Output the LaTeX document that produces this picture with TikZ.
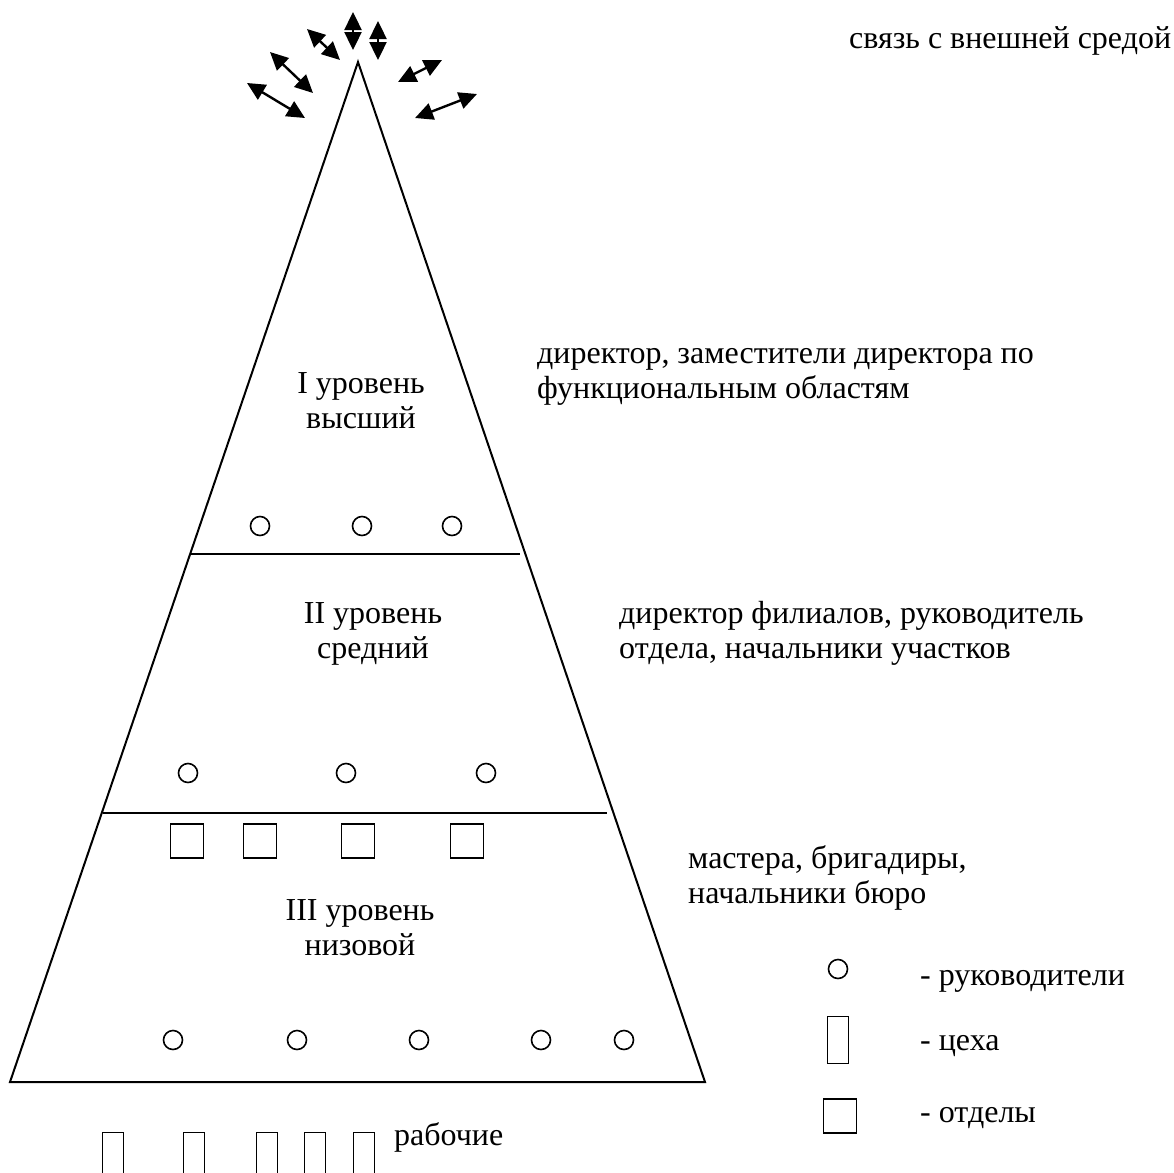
\documentclass[tikz,border=0pt]{standalone}
\usepackage{fontspec}
\setmainfont{Liberation Serif}
\usetikzlibrary{arrows.meta,positioning}
\tikzset{
  ruk/.style={circle,draw,line width=1.6pt,minimum size=19pt,inner sep=0pt},
  otd/.style={rectangle,draw,line width=1.6pt,minimum width=33pt,minimum height=34pt,inner sep=0pt},
  ceh/.style={rectangle,draw,line width=1.6pt,minimum width=21pt,minimum height=47pt,inner sep=0pt},
  txt/.style={font=\fontsize{32}{35}\selectfont,inner sep=0pt},
  svyaz/.style={{Triangle[length=18pt,width=17pt]}-{Triangle[length=18pt,width=17pt]},line width=2.4pt},
  kontur/.style={line width=2pt}
}

\begin{document}
\begin{tikzpicture}[x=1pt,y=-1pt]
\useasboundingbox (0,0) rectangle (1173,1173);
% пирамида и уровни
\coordinate (verh) at (358,62);
\coordinate (nizL) at (10,1082);
\coordinate (nizR) at (705,1082);
\draw[kontur] (nizL)--(verh)--(nizR)--cycle;
\draw[kontur] (191,554)--(520,554);
\draw[kontur] (103,813)--(607,813);
% связь с внешней средой
\foreach \xa/\ya/\xb/\yb in {247/83/305/118, 270/52/313/93, 307/29/340/60, 353/12/353/50,
  378/21/378/60, 398/82/442/60, 415/118/477/94}{
  \draw[svyaz] (\xa,\ya)--(\xb,\yb);
}
% руководители
\foreach \x [count=\i] in {260,362,452}{\node[ruk] (r1\i) at (\x,526){};}
\foreach \x [count=\i] in {188,346,486}{\node[ruk] (r2\i) at (\x,773){};}
\foreach \x [count=\i] in {173,297,419,541,624}{\node[ruk] (r3\i) at (\x,1040){};}
% отделы
\foreach \x [count=\i] in {187,260,358,467}{\node[otd] (o\i) at (\x,841){};}
% рабочие
\foreach \x [count=\i] in {113,194,267,315,364}{\node[ceh] (c\i) at (\x,1156){};}
% подписи уровней (base = последняя строка)
\node[txt,align=center,anchor=base] (u1) at (361,428) {I уровень\\высший};
\node[txt,align=center,anchor=base] (u2) at (373,658) {II уровень\\средний};
\node[txt,align=center,anchor=base] (u3) at (360,955) {III уровень\\низовой};
% пояснения
\node[txt,anchor=base west] (s0) at (849,48) {связь с внешней средой};
\node[txt,align=left,anchor=base west] (s1) at (537,398) {директор, заместители директора по\\функциональным областям};
\node[txt,align=left,anchor=base west] (s2) at (619,658) {директор филиалов, руководитель\\отдела, начальники участков};
\node[txt,align=left,anchor=base west] (s3) at (688,903) {мастера, бригадиры,\\начальники бюро};
\node[txt,anchor=base west] (rab) at (394,1145) {рабочие};
% условные обозначения
\node[ruk] (lg1) at (838,969){};
\node[ceh] (lg2) at (838,1040){};
\node[otd] (lg3) at (840,1116){};
\node[txt,anchor=base west] (t1) at (920,985) {- руководители};
\node[txt,anchor=base west] (t2) at (920,1050) {- цеха};
\node[txt,anchor=base west] (t3) at (920,1122) {- отделы};
\end{tikzpicture}
\end{document}
